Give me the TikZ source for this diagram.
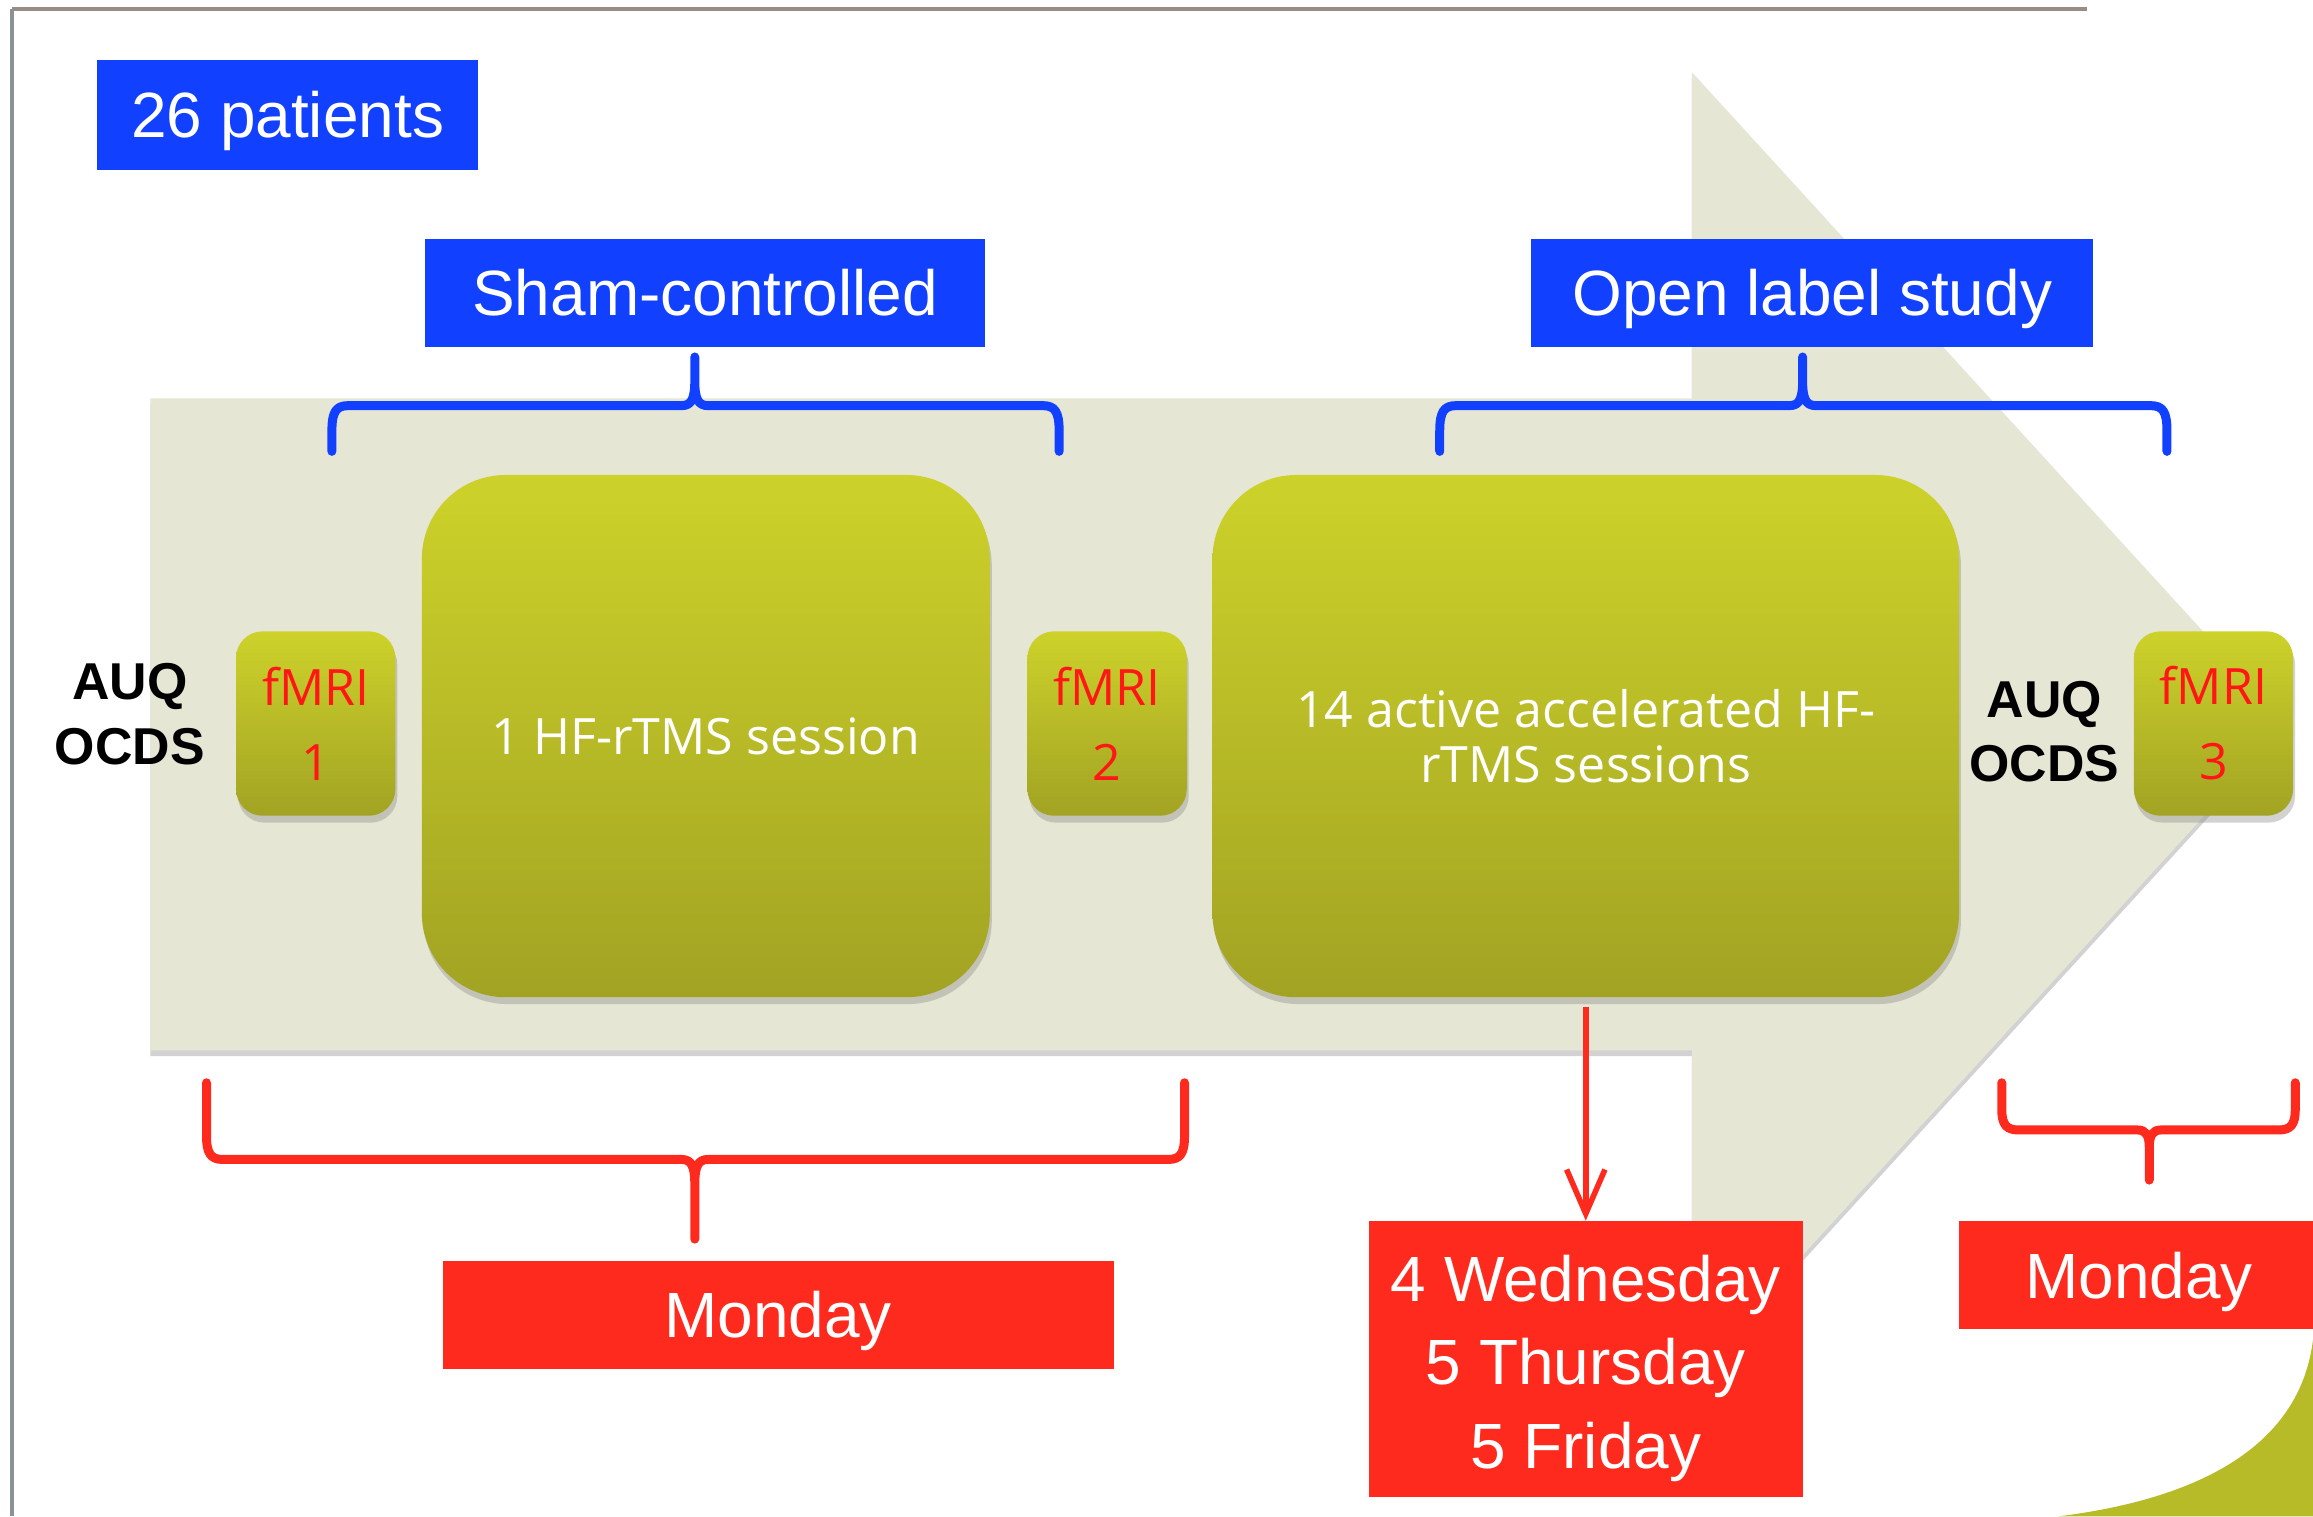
\documentclass[tikz,border=0pt]{standalone}
\usepackage{fontspec}
\setmainfont{Liberation Sans}
\newfontfamily\boxfont{Open Sans}
\usetikzlibrary{shadows,arrows.meta}
\definecolor{beige}{RGB}{230,230,213}
\definecolor{bblue}{RGB}{18,64,255}
\definecolor{rred}{RGB}{255,42,30}
\definecolor{gtop}{RGB}{205,210,42}
\definecolor{gbot}{RGB}{162,163,35}
\definecolor{fred}{RGB}{255,22,22}
\definecolor{olivec}{RGB}{184,187,40}
\definecolor{frameg}{RGB}{140,144,152}
\begin{document}
\begin{tikzpicture}[x=0.015cm,y=-0.015cm,
  bluebox/.style={fill=bblue, text=white, inner sep=0pt, text height=13.2pt, text depth=0pt,
     font=\fontsize{18.5}{22}\selectfont},
  redbox/.style={fill=rred, text=white, inner sep=0pt, align=center, font=\fontsize{18.5}{24.2}\selectfont},
  monbox/.style={redbox, text height=13.2pt, text depth=0pt},
  greenbox/.style={top color=gtop, bottom color=gbot, draw=none, inner sep=0pt, align=center,
     drop shadow={shadow xshift=0.02cm, shadow yshift=-0.07cm, opacity=0.35}},
  fmribox/.style={greenbox, rounded corners=0.27cm, minimum width=1.62cm, minimum height=1.875cm,
     text=fred, font=\boxfont\fontsize{14.5}{21.7}\selectfont},
  sessionbox/.style={greenbox, rounded corners=0.85cm, minimum height=5.31cm, text=white,
     font=\boxfont\fontsize{14.5}{16}\selectfont},
  scorelabel/.style={font=\bfseries\fontsize{15}{18.7}\selectfont, align=center, inner sep=0pt},
  bluebrace/.style={draw=bblue, line width=2.6pt, line join=round, line cap=round},
  redbrace/.style={draw=rred, line width=2.6pt, line join=round, line cap=round},
  redarrow/.style={draw=rred, line width=1.6pt, -{Straight Barb[length=0.45cm, width=0.39cm, line width=1.6pt]}}
]
\clip (0,0) rectangle (1568,1028);
\fill[white] (0,0) rectangle (1568,1028);
% frame lines
\draw[frameg, line width=1.2pt] (8,1028) -- (8,6);
\draw[frameg!80!brown, line width=1.2pt] (8,6) -- (1415,6);
% big arrow
\fill[beige, drop shadow={shadow xshift=0cm, shadow yshift=-0.06cm, opacity=0.35}]
  (102,270) -- (1147,270) -- (1147,49) -- (1551,491) -- (1147,933) -- (1147,712) -- (102,712) -- cycle;
% olive corner
\fill[olivec] (1568,908) .. controls (1560,975) and (1500,1015) .. (1395,1028) -- (1568,1028) -- cycle;
% title boxes
\node[bluebox, minimum width=3.87cm, minimum height=1.11cm] (pat) at (195,78) {26 patients};
\node[bluebox, minimum width=5.7cm, minimum height=1.095cm] (sham) at (478,198.5) {Sham-controlled};
\node[bluebox, minimum width=5.715cm, minimum height=1.095cm] (open) at (1228.5,198.5) {Open label study};
% blue braces
\draw[bluebrace] (225,306) -- (225,292) .. controls (225,279) and (228,275) .. (236,275) -- (462,275)
  .. controls (469,275) and (471,270) .. (471,258) -- (471,242) -- (471,258)
  .. controls (471,270) and (473,275) .. (480,275) -- (707,275)
  .. controls (715,275) and (718,279) .. (718,292) -- (718,306);
\draw[bluebrace] (976,306) -- (976,292) .. controls (976,279) and (979,275) .. (987,275) -- (1213,275)
  .. controls (1220,275) and (1222,270) .. (1222,258) -- (1222,242) -- (1222,258)
  .. controls (1222,270) and (1224,275) .. (1231,275) -- (1458,275)
  .. controls (1466,275) and (1469,279) .. (1469,292) -- (1469,306);
% green boxes
\node[fmribox] (f1) at (214,490.5) {fMRI\\1};
\node[sessionbox, minimum width=5.775cm] (hf) at (478.5,499) {1 HF-rTMS session};
\node[fmribox] (f2) at (750.5,490.5) {fMRI\\2};
\node[sessionbox, minimum width=7.59cm] (act) at (1075,499) {14 active accelerated HF-\\rTMS sessions};
\node[fmribox] (f3) at (1500.5,490.5) {fMRI\\3};
% score labels
\node[scorelabel] (s1) at (88,484) {AUQ\\OCDS};
\node[scorelabel] (s3) at (1386,496) {AUQ\\OCDS};
% red braces
\draw[redbrace] (140,734) -- (140,770) .. controls (140,782) and (143,786) .. (151,786) -- (462,786)
  .. controls (469,786) and (471,791) .. (471,803) -- (471,840) -- (471,803)
  .. controls (471,791) and (473,786) .. (480,786) -- (792,786)
  .. controls (800,786) and (803,782) .. (803,770) -- (803,734);
\draw[redbrace] (1357,734) -- (1357,752) .. controls (1357,762) and (1360,766) .. (1368,766) -- (1449,766)
  .. controls (1455,766) and (1457,770) .. (1457,778) -- (1457,800) -- (1457,778)
  .. controls (1457,770) and (1459,766) .. (1465,766) -- (1545,766)
  .. controls (1553,766) and (1556,762) .. (1556,752) -- (1556,734);
% red boxes
\node[monbox, minimum width=6.825cm, minimum height=1.095cm] (mon1) at (527.5,891.5) {Monday};
\node[redbox, minimum width=4.41cm, minimum height=2.805cm] (days) at (1075,921.5) {};
\node[redbox, fill=none] (daystext) at (1075,927.5) {4 Wednesday\\5 Thursday\\5 Friday};
\node[monbox, minimum width=3.66cm, minimum height=1.095cm] (mon2) at (1450,864.5) {Monday};
% arrow
\draw[redarrow] ([yshift=-0.09cm]act.south) -- (days.north);
\end{tikzpicture}
\end{document}
